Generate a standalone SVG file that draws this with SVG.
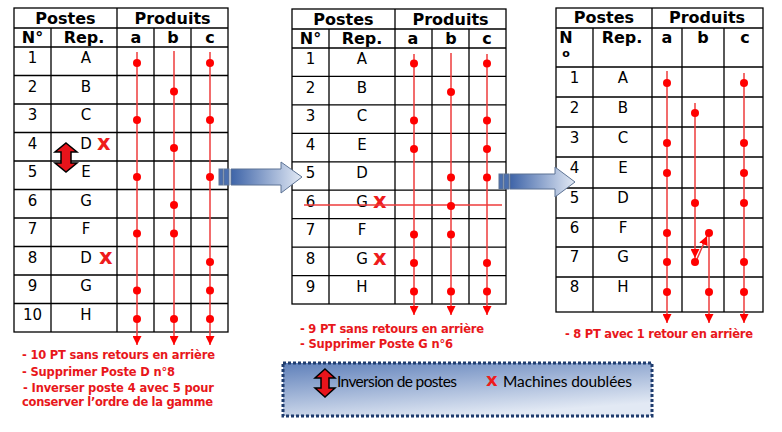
<svg xmlns="http://www.w3.org/2000/svg" width="782" height="432" viewBox="0 0 782 432">
<style>
.g{fill:none;stroke:#000;stroke-width:1.3}
.h{font-family:"DejaVu Sans",Verdana,sans-serif;font-weight:bold;font-size:16px;fill:#000;text-anchor:middle}
.t{font-family:"DejaVu Sans",Verdana,sans-serif;font-size:15px;fill:#000;text-anchor:middle}
.x{font-family:"DejaVu Sans",Verdana,sans-serif;font-weight:bold;font-size:21px;fill:#ee1c1c}
.n{font-family:"DejaVu Sans",Verdana,sans-serif;font-weight:bold;font-size:11.5px;fill:#e8171b}
.l{stroke:#ee3b3b;stroke-width:1.5;fill:none}
.d{fill:#ff0000}
.lg{font-family:Lato,"Open Sans",sans-serif;font-size:15.5px;fill:#000}
.ba{stroke:#5d7394;stroke-width:1}
.da{fill:#e8141b;stroke:#000;stroke-width:1.5;stroke-linejoin:miter}
</style>
<defs>
<marker id="ah" markerUnits="userSpaceOnUse" markerWidth="9" markerHeight="9" viewBox="0 0 9 9" refX="9" refY="4.5" orient="auto">
<path d="M0,0 L9,4.5 L0,9 z" fill="#ff0000"/>
</marker>
<linearGradient id="ag" x1="0" y1="0" x2="1" y2="0">
<stop offset="0" stop-color="#3e64a8"/>
<stop offset="1" stop-color="#e3eaf5"/>
</linearGradient>
<linearGradient id="lgr" x1="0" y1="0" x2="0.5" y2="1">
<stop offset="0" stop-color="#5f80ba"/>
<stop offset="1" stop-color="#e2e9f4"/>
</linearGradient>
</defs>

<g id="table1">
<rect class="g" x="14" y="8" width="214" height="324"/>
<path class="g" d="M14,28H228M14,47H228M14,75.5H228M14,104H228M14,132.5H228M14,161H228M14,189.5H228M14,218H228M14,246.5H228M14,275H228M14,303.5H228M51,28V332M117,8V332M154,28V332M191,28V332"/>
<text class="h" x="65.5" y="24">Postes</text>
<text class="h" x="172.5" y="24">Produits</text>
<text class="h" x="32.5" y="43">N°</text>
<text class="h" x="84" y="43">Rep.</text>
<text class="h" x="136" y="43">a</text>
<text class="h" x="173" y="43">b</text>
<text class="h" x="210" y="43">c</text>
<g class="t">
<text x="32.5" y="63">1</text><text x="86" y="63">A</text>
<text x="32.5" y="91.5">2</text><text x="86" y="91.5">B</text>
<text x="32.5" y="120">3</text><text x="86" y="120">C</text>
<text x="32.5" y="148.5">4</text><text x="86" y="148.5">D</text>
<text x="32.5" y="177">5</text><text x="86" y="177">E</text>
<text x="32.5" y="205.5">6</text><text x="86" y="205.5">G</text>
<text x="32.5" y="234">7</text><text x="86" y="234">F</text>
<text x="32.5" y="262.5">8</text><text x="86" y="262.5">D</text>
<text x="32.5" y="291">9</text><text x="86" y="291">G</text>
<text x="32.5" y="319.5">10</text><text x="86" y="319.5">H</text>
</g>
<text class="x" x="97" y="150">x</text>
<text class="x" x="99" y="264">x</text>
<polygon class="da" points="66,143 77,152 71,152 71,163 77,163 66,172 55,163 61,163 61,152 55,152"/>
</g>

<g id="table2">
<rect class="g" x="292" y="9" width="214" height="295"/>
<path class="g" d="M292,29H506M292,48H506M292,76.4H506M292,104.9H506M292,133.3H506M292,161.8H506M292,190.2H506M292,218.7H506M292,247.1H506M292,275.6H506M329,29V304M395,9V304M432,29V304M469,29V304"/>
<text class="h" x="343.5" y="25">Postes</text>
<text class="h" x="450.5" y="25">Produits</text>
<text class="h" x="310.5" y="44">N°</text>
<text class="h" x="362" y="44">Rep.</text>
<text class="h" x="413" y="44">a</text>
<text class="h" x="451" y="44">b</text>
<text class="h" x="487" y="44">c</text>
<g class="t">
<text x="310.5" y="64">1</text><text x="362" y="64">A</text>
<text x="310.5" y="92.5">2</text><text x="362" y="92.5">B</text>
<text x="310.5" y="121">3</text><text x="362" y="121">C</text>
<text x="310.5" y="149.5">4</text><text x="362" y="149.5">E</text>
<text x="310.5" y="178">5</text><text x="362" y="178">D</text>
<text x="310.5" y="206.5">6</text><text x="362" y="206.5">G</text>
<text x="310.5" y="235">7</text><text x="362" y="235">F</text>
<text x="310.5" y="263.5">8</text><text x="362" y="263.5">G</text>
<text x="310.5" y="292">9</text><text x="362" y="292">H</text>
</g>
<text class="x" x="373" y="208">x</text>
<text class="x" x="373" y="265">x</text>
</g>

<g id="table3">
<rect class="g" x="556" y="8" width="207" height="304"/>
<path class="g" d="M556,28H763M556,67H763M556,97H763M556,127H763M556,157H763M556,188H763M556,218H763M556,247H763M556,277H763M593,28V312M652,8V312M682,28V312M724,28V312"/>
<text class="h" x="604" y="23">Postes</text>
<text class="h" x="707" y="23">Produits</text>
<text class="h" x="566" y="43">N</text>
<text class="h" x="566" y="57" style="font-size:11px">o</text>
<text class="h" x="622" y="43">Rep.</text>
<text class="h" x="667" y="43">a</text>
<text class="h" x="703" y="43">b</text>
<text class="h" x="745" y="43">c</text>
<g class="t">
<text x="574.5" y="83">1</text><text x="623" y="83">A</text>
<text x="574.5" y="113">2</text><text x="623" y="113">B</text>
<text x="574.5" y="143">3</text><text x="623" y="143">C</text>
<text x="574.5" y="173">4</text><text x="623" y="173">E</text>
<text x="574.5" y="203">5</text><text x="623" y="203">D</text>
<text x="574.5" y="233">6</text><text x="623" y="233">F</text>
<text x="574.5" y="262">7</text><text x="623" y="262">G</text>
<text x="574.5" y="292">8</text><text x="623" y="292">H</text>
</g>
</g>

<g id="connectors">
<line class="l" x1="137" y1="52" x2="137" y2="345" marker-end="url(#ah)"/>
<line class="l" x1="174" y1="51" x2="174" y2="345" marker-end="url(#ah)"/>
<line class="l" x1="210" y1="52" x2="210" y2="345" marker-end="url(#ah)"/>
<line class="l" x1="414" y1="54" x2="414" y2="315" marker-end="url(#ah)"/>
<line class="l" x1="451" y1="53" x2="451" y2="315" marker-end="url(#ah)"/>
<line class="l" x1="487" y1="54" x2="487" y2="315" marker-end="url(#ah)"/>
<line class="l" x1="304" y1="205" x2="502" y2="205"/>
<line class="l" x1="667" y1="71" x2="667" y2="323" marker-end="url(#ah)"/>
<line class="l" x1="744" y1="73" x2="744" y2="323" marker-end="url(#ah)"/>
<line class="l" x1="695" y1="103" x2="695" y2="258" marker-end="url(#ah)"/>
<line class="l" x1="697" y1="259" x2="707" y2="236" marker-end="url(#ah)"/>
<line class="l" x1="709" y1="233" x2="709" y2="323" marker-end="url(#ah)"/>
</g>

<g id="dots" class="d">
<circle cx="137" cy="63" r="4"/><circle cx="210" cy="63" r="4"/>
<circle cx="174" cy="91.5" r="4"/>
<circle cx="137" cy="120" r="4"/><circle cx="210" cy="120" r="4"/>
<circle cx="174" cy="148" r="4"/>
<circle cx="137" cy="177" r="4"/><circle cx="210" cy="177" r="4"/>
<circle cx="174" cy="205" r="4"/>
<circle cx="137" cy="233.5" r="4"/><circle cx="174" cy="233.5" r="4"/>
<circle cx="210" cy="262" r="4"/>
<circle cx="137" cy="290.5" r="4"/><circle cx="210" cy="290.5" r="4"/>
<circle cx="137" cy="319" r="4"/><circle cx="174" cy="319" r="4"/><circle cx="210" cy="319" r="4"/>

<circle cx="414" cy="63.5" r="4"/><circle cx="487" cy="63.5" r="4"/>
<circle cx="451" cy="92" r="4"/>
<circle cx="414" cy="120.5" r="4"/><circle cx="487" cy="120.5" r="4"/>
<circle cx="414" cy="149" r="4"/><circle cx="487" cy="149" r="4"/>
<circle cx="451" cy="177.5" r="4"/><circle cx="487" cy="177.5" r="4"/>
<circle cx="451" cy="206" r="4"/>
<circle cx="414" cy="234.5" r="4"/><circle cx="451" cy="234.5" r="4"/>
<circle cx="414" cy="263" r="4"/><circle cx="487" cy="263" r="4"/>
<circle cx="414" cy="291.5" r="4"/><circle cx="451" cy="291.5" r="4"/><circle cx="487" cy="291.5" r="4"/>

<circle cx="667" cy="83" r="4"/><circle cx="744" cy="83" r="4"/>
<circle cx="695" cy="113" r="4"/>
<circle cx="667" cy="143" r="4"/><circle cx="744" cy="143" r="4"/>
<circle cx="667" cy="173" r="4"/><circle cx="744" cy="173" r="4"/>
<circle cx="695" cy="203" r="4"/><circle cx="744" cy="203" r="4"/>
<circle cx="667" cy="233" r="4"/><circle cx="709" cy="233" r="4"/>
<circle cx="667" cy="262" r="4"/><circle cx="695" cy="262" r="4"/><circle cx="744" cy="262" r="4"/>
<circle cx="667" cy="292" r="4"/><circle cx="709" cy="292" r="4"/><circle cx="744" cy="292" r="4"/>
</g>

<g id="arrow1">
<rect class="ba" x="219" y="169" width="4" height="16" fill="#4a6fb0"/>
<rect class="ba" x="224" y="169" width="5" height="16" fill="#4a6fb0"/>
<polygon class="ba" fill="url(#ag)" points="231,169 281,169 281,162 302,177 281,193 281,185 231,185"/>
</g>
<g id="arrow2">
<rect class="ba" x="499" y="174" width="4" height="15" fill="#4a6fb0"/>
<rect class="ba" x="504" y="174" width="5" height="15" fill="#4a6fb0"/>
<polygon class="ba" fill="url(#ag)" points="510,174 555,174 555,167 575,182 555,197 555,189 510,189"/>
</g>

<g id="notes1" class="n">
<text x="22" y="359" textLength="193">- 10 PT sans retours en arrière</text>
<text x="22" y="376" textLength="153">- Supprimer Poste D n°8</text>
<text x="23" y="392" textLength="191">- Inverser poste 4 avec 5 pour</text>
<text x="22" y="406" textLength="191">conserver l’ordre de la gamme</text>
</g>
<g id="notes2" class="n">
<text x="300" y="333" textLength="184">- 9 PT sans retours en arrière</text>
<text x="300" y="348" textLength="153">- Supprimer Poste G n°6</text>
</g>
<g id="notes3" class="n">
<text x="565" y="338" textLength="188">- 8 PT avec 1 retour en arrière</text>
</g>

<g id="legend">
<rect x="283" y="363" width="369" height="53" fill="url(#lgr)" stroke="#1f3c6e" stroke-width="3" stroke-dasharray="3 2"/>
<polygon class="da" points="325,369 335,378 329,378 329,388 335,388 325,397 315,388 321,388 321,378 315,378"/>
<text class="lg" x="337" y="387" textLength="120">Inversion de postes</text>
<text class="x" x="486" y="386" style="font-size:18px">x</text>
<text class="lg" x="503" y="387" textLength="129">Machines doublées</text>
</g>
</svg>
